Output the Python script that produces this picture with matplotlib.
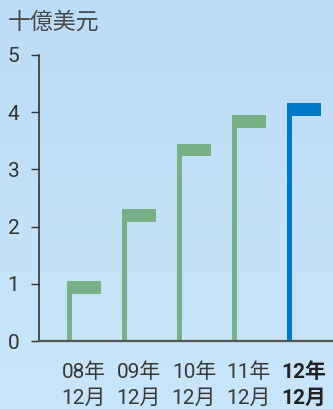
import numpy as np
import matplotlib.pyplot as plt

# 年末时点数值（十亿美元）
years = ["08年", "09年", "10年", "11年", "12年"]
months = ["12月", "12月", "12月", "12月", "12月"]
values = [1.05, 2.30, 3.45, 3.95, 4.15]
colors = ["#78b085", "#78b085", "#78b085", "#78b085", "#0079c9"]
yticks = [0, 1, 2, 3, 4, 5]

plt.rcParams["font.family"] = ["Roboto", "Noto Sans CJK JP", "DejaVu Sans"]

fig = plt.figure(figsize=(3.33, 4.09), dpi=100)

# 浅蓝色渐变背景
bg = fig.add_axes([0, 0, 1, 1], zorder=-10)
grad = np.linspace(0, 1, 256).reshape(-1, 1)
top = np.array([189, 220, 245]) / 255
bottom = np.array([201, 229, 249]) / 255
img = top + (bottom - top) * grad[..., None]
bg.imshow(img, aspect="auto", extent=[0, 1, 0, 1])
bg.axis("off")

ax = fig.add_axes([0.117, 0.166, 0.883, 0.7])
ax.patch.set_alpha(0)

x = np.arange(len(values))
flag_w = 0.62
flag_h = 0.225
stem_w = 0.095

# 旗形：顶部横条 + 左侧竖线
ax.bar(x - flag_w / 2, flag_h, width=flag_w, bottom=np.array(values) - flag_h,
       align="edge", color=colors, linewidth=0)
ax.bar(x - flag_w / 2, values, width=stem_w, align="edge", color=colors, linewidth=0)

ax.set_xlim(-0.818, 4.527)
ax.set_ylim(0, 5)
ax.set_yticks(yticks)
ax.set_yticklabels([str(t) for t in yticks], fontsize=15, color="#333333")
ax.tick_params(axis="y", length=6, width=1, color="#333333", pad=8)
ax.set_xticks(x)
ax.set_xticklabels([f"{a}\n{b}" for a, b in zip(years, months)],
                   fontsize=15, color="#383838", linespacing=1.5)
ax.tick_params(axis="x", length=0, pad=15)
ax.get_xticklabels()[-1].set_fontweight("bold")
ax.get_xticklabels()[-1].set_color("#222222")

for s in ["top", "right"]:
    ax.spines[s].set_visible(False)
ax.spines["left"].set_color("#333333")
ax.spines["left"].set_linewidth(1.2)
ax.spines["bottom"].set_color("#555555")
ax.spines["bottom"].set_linewidth(1.6)

fig.text(0.022, 0.947, "十億美元", fontsize=16.5, color="#484848", va="center", ha="left")

fig.savefig("out.png", dpi=100)
